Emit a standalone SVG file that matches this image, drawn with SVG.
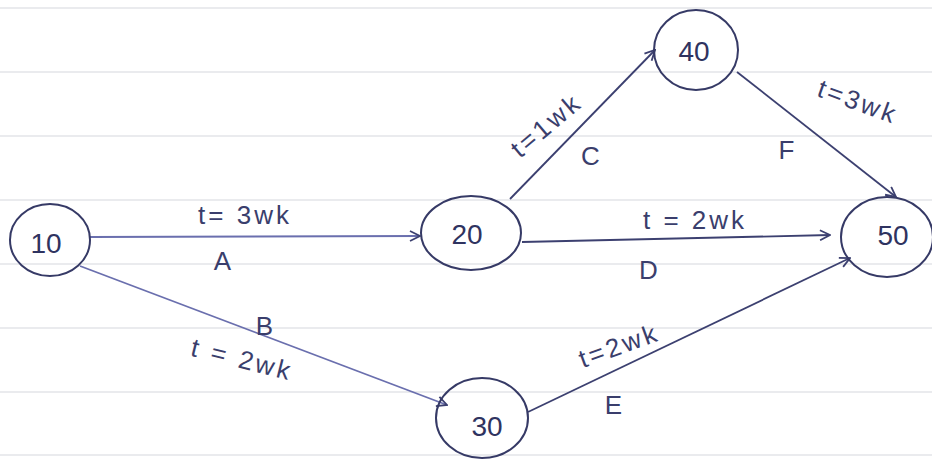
<svg xmlns="http://www.w3.org/2000/svg" width="932" height="462" viewBox="0 0 932 462">
<style>
.rule{stroke:#e3e4e8;stroke-width:1.5}
.node ellipse{fill:none;stroke:#363a66;stroke-width:2}
.node text{font-family:"Liberation Sans",Arial,sans-serif;font-size:28px;fill:#2f3360;text-anchor:middle;dominant-baseline:central}
.edge{fill:none;stroke:#3c4070;stroke-width:1.8;marker-end:url(#arr)}
.edge.light{stroke:#6a6fae}
.lbl{font-family:"Liberation Sans",Arial,sans-serif;font-size:26px;letter-spacing:3px;fill:#3a3e6c;text-anchor:middle}
</style>
<defs>
<marker id="arr" viewBox="0 0 12 12" refX="11" refY="6" markerWidth="12" markerHeight="12" markerUnits="userSpaceOnUse" orient="auto">
<path d="M1,1 L11,6 L1,11" fill="none" stroke="#3c4070" stroke-width="1.8"/>
</marker>
</defs>
<rect width="932" height="462" fill="#ffffff"/>
<g id="paper">
<line class="rule" x1="0" y1="8" x2="932" y2="8"/>
<line class="rule" x1="0" y1="72" x2="932" y2="72"/>
<line class="rule" x1="0" y1="136" x2="932" y2="136"/>
<line class="rule" x1="0" y1="200" x2="932" y2="200"/>
<line class="rule" x1="0" y1="264" x2="932" y2="264"/>
<line class="rule" x1="0" y1="328" x2="932" y2="328"/>
<line class="rule" x1="0" y1="392" x2="932" y2="392"/>
<line class="rule" x1="0" y1="455" x2="932" y2="455"/>
</g>
<g id="connectors">
<line class="edge light" x1="90" y1="237" x2="420" y2="236"/>
<line class="edge light" x1="80" y1="266" x2="447" y2="405"/>
<line class="edge" x1="510" y1="199" x2="655" y2="50"/>
<line class="edge" x1="522" y1="242" x2="830" y2="235"/>
<line class="edge" x1="737" y1="72" x2="896" y2="197"/>
<line class="edge" x1="528" y1="412" x2="850" y2="258"/>
</g>
<g id="labels">
<text class="lbl" x="245" y="224">t= 3wk</text>
<text class="lbl" x="224" y="270">A</text>
<text class="lbl" x="266" y="335">B</text>
<text class="lbl" transform="translate(240,368) rotate(14)">t = 2wk</text>
<text class="lbl" transform="translate(552,132) rotate(-40)">t=1wk</text>
<text class="lbl" x="592" y="165">C</text>
<text class="lbl" x="695" y="229">t = 2wk</text>
<text class="lbl" x="650" y="279">D</text>
<text class="lbl" transform="translate(855,110) rotate(20)">t=3wk</text>
<text class="lbl" x="788" y="159">F</text>
<text class="lbl" transform="translate(622,354) rotate(-20)">t=2wk</text>
<text class="lbl" x="615" y="414">E</text>
</g>
<g id="n10" class="node"><ellipse cx="50" cy="240" rx="40" ry="36"/><text x="46" y="243">10</text></g>
<g id="n20" class="node"><ellipse cx="471" cy="233" rx="50" ry="37"/><text x="467" y="234">20</text></g>
<g id="n30" class="node"><ellipse cx="482" cy="418" rx="46" ry="40"/><text x="487" y="426">30</text></g>
<g id="n40" class="node"><ellipse cx="696" cy="50" rx="42" ry="40"/><text x="694" y="51">40</text></g>
<g id="n50" class="node"><ellipse cx="887" cy="237" rx="46" ry="40"/><text x="893" y="235">50</text></g>
</svg>
